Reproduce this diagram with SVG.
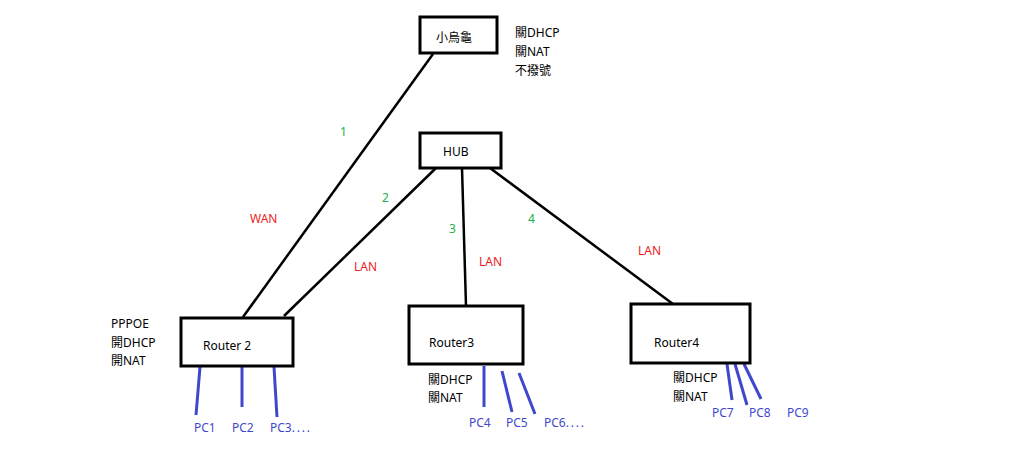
<svg xmlns="http://www.w3.org/2000/svg" width="1024" height="460" viewBox="0 0 1024 460">
<style>
text{font-family:"Noto Sans","Noto Sans CJK TC",sans-serif;font-size:12px;fill:#000}
.box{fill:#fff;stroke:#000;stroke-width:3}
.wire{stroke:#000;stroke-width:2.5;fill:none}
.pc{stroke:#3f48cc;stroke-width:3;fill:none}
.blue{fill:#3f48cc}
.red{fill:#ed1c24}
.green{fill:#22b14c}
.dots{letter-spacing:1.8px}
</style>
<rect width="1024" height="460" fill="#fff"/>
<g id="connectors">
<line class="wire" x1="433" y1="54" x2="243" y2="317"/>
<line class="wire" x1="436" y1="168" x2="284" y2="316"/>
<line class="wire" x1="462" y1="168" x2="466" y2="306"/>
<line class="wire" x1="490" y1="168" x2="677" y2="307"/>
<line class="pc" x1="200" y1="367" x2="196" y2="415"/>
<line class="pc" x1="242" y1="367" x2="242" y2="407"/>
<line class="pc" x1="274" y1="367" x2="277" y2="417"/>
<line class="pc" x1="484" y1="366" x2="484" y2="407"/>
<line class="pc" x1="502" y1="371" x2="512" y2="412"/>
<line class="pc" x1="519" y1="373" x2="535" y2="414"/>
<line class="pc" x1="727" y1="364" x2="732" y2="400"/>
<line class="pc" x1="735" y1="364" x2="747" y2="405"/>
<line class="pc" x1="744" y1="364" x2="761" y2="399"/>
<text class="green" x="340" y="136">1</text>
<text class="green" x="382" y="202">2</text>
<text class="green" x="449" y="233">3</text>
<text class="green" x="528" y="223">4</text>
<text class="red" x="250" y="223">WAN</text>
<text class="red" x="354" y="271">LAN</text>
<text class="red" x="479" y="266">LAN</text>
<text class="red" x="638" y="255">LAN</text>
</g>
<g id="turtle">
<rect class="box" x="420" y="17" width="77" height="36"/>
<text x="436" y="42">小烏龜</text>
<text x="515" y="37">關DHCP</text>
<text x="515" y="56">關NAT</text>
<text x="515" y="75">不撥號</text>
</g>
<g id="hub">
<rect class="box" x="420" y="133" width="81" height="35"/>
<text x="443" y="156">HUB</text>
</g>
<g id="router2">
<rect class="box" x="181" y="318" width="112" height="48"/>
<text x="203" y="350">Router 2</text>
<text x="111" y="328">PPPOE</text>
<text x="111" y="347">開DHCP</text>
<text x="111" y="365">開NAT</text>
</g>
<g id="router3">
<rect class="box" x="409" y="306" width="114" height="58"/>
<text x="429" y="347">Router3</text>
<text x="428" y="384">關DHCP</text>
<text x="428" y="402">關NAT</text>
</g>
<g id="router4">
<rect class="box" x="631" y="304" width="119" height="59"/>
<text x="654" y="347">Router4</text>
<text x="673" y="382">關DHCP</text>
<text x="673" y="401">關NAT</text>
</g>
<g id="pcs">
<text class="blue" x="194" y="432">PC1</text>
<text class="blue" x="232" y="432">PC2</text>
<text class="blue" x="270" y="432">PC3<tspan class="dots">....</tspan></text>
<text class="blue" x="469" y="427">PC4</text>
<text class="blue" x="506" y="427">PC5</text>
<text class="blue" x="544" y="427">PC6<tspan class="dots">....</tspan></text>
<text class="blue" x="712" y="417">PC7</text>
<text class="blue" x="749" y="417">PC8</text>
<text class="blue" x="787" y="417">PC9</text>
</g>
</svg>
